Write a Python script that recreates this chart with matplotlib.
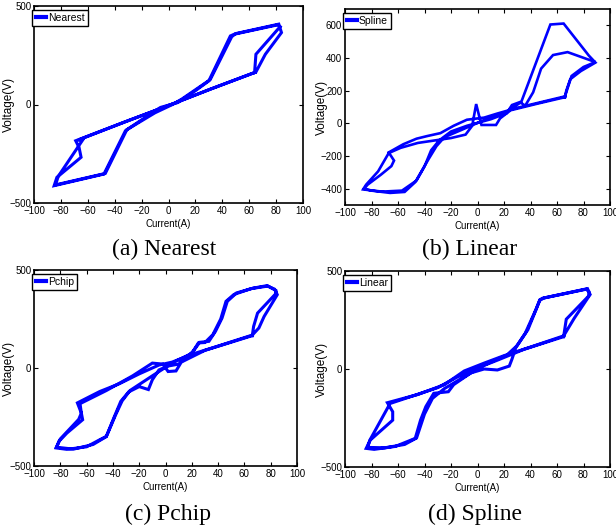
import matplotlib
matplotlib.use("Agg")
import matplotlib.pyplot as plt

# hysteresis loops, current (A) vs voltage (V), two cycles per panel
nearest_i = [64, 30, 0, -35, -69, -66.5, -65, -83, -85, -48, -32, -15, -6, 7, 20, 30, 46, 49, 81, 83, 65, 64,
             65, 32, 2, -30, -67, -64, -82, -84, -47, -31, -10, 3, 10, 31, 47, 50, 82, 84, 72, 65]
nearest_v = [162, 75, -5, -95, -184, -218, -268, -370, -412, -353, -133, -55, -15, 10, 70, 120, 348, 357, 404, 395, 255, 162,
             165, 80, 0, -82, -180, -182, -365, -408, -350, -128, -42, 0, 28, 126, 344, 360, 408, 365, 255, 165]

spline_i = [66, 48, 30, 15, 5, -8, -18, -28, -38, -46, -56, -67, -63, -65, -73, -83, -86, -72, -57, -46, -40, -35, -29,
            -20, -8, 10, 22, 26, 32, 36, 42, 48, 57, 68, 89, 80, 71, 68, 66,
            66, 45, 25, 17, 14, 3, 2, -1, -4, -9, -20, -30, -45, -58, -67, -75, -84, -86, -80, -66, -55, -47, -37, -31,
            -25, -12, 5, 20, 33, 55, 65, 84, 89, 78, 70, 67, 66]
spline_v = [165, 130, 95, 60, 35, 22, -15, -60, -78, -94, -128, -178, -228, -262, -315, -376, -405, -418, -412, -350, -264, -165, -105,
            -50, -15, 25, 62, 112, 130, 108, 190, 335, 418, 436, 375, 345, 290, 215, 165,
            160, 120, 80, 30, -10, -10, 20, 118, -15, -69, -90, -102, -120, -150, -182, -294, -375, -400, -412, -426, -420, -360, -220, -140,
            -85, -40, 20, 60, 130, 605, 611, 415, 372, 320, 270, 200, 160]

pchip_i = [66, 40, 20, 5, -5, -20, -35, -50, -67, -64, -63, -75, -81, -83, -75, -60, -50, -45, -39, -34, -28, -20, -13, -10, -5,
           2, 10, 21, 26, 33, 38, 43, 47, 54, 67, 77, 83, 85, 75, 71, 66,
           66, 30, 12, 8, 2, -2, -10, -25, -45, -65, -64, -66, -80, -83, -70, -55, -45, -38, -33, -27, -10, 5, 20, 25, 30,
           36, 42, 46, 52, 65, 78, 84, 84, 70, 67, 66]
pchip_v = [168, 112, 70, 30, 15, -30, -80, -120, -178, -230, -264, -332, -374, -408, -415, -402, -366, -349, -250, -170, -122, -95, -110, -60, -10,
           10, 20, 85, 131, 136, 187, 255, 340, 383, 408, 420, 402, 374, 263, 204, 168,
           165, 90, 30, -15, -18, 20, 25, -40, -115, -182, -230, -262, -362, -404, -414, -390, -350, -240, -168, -115, -40, 25, 75, 128, 130,
           170, 250, 340, 375, 405, 418, 395, 380, 280, 212, 165]

linear_i = [65, 40, 20, 5, -10, -25, -45, -68, -64, -64, -81, -84, -78, -62, -47, -43, -39, -33, -22, -18, -5, 5, 15, 24, 26,
            29, 36, 44, 47, 49, 82, 84, 84, 73, 65,
            65, 35, 15, 0, -15, -30, -50, -66, -81, -83, -70, -55, -46, -40, -34, -25, -10, 5, 15, 22, 30, 38, 44, 47, 50,
            83, 85, 67, 65]
linear_v = [169, 112, 68, 30, -10, -80, -130, -172, -218, -261, -363, -405, -410, -395, -354, -261, -192, -124, -116, -80, -20, 0, -5, 15, 50,
            111, 182, 302, 353, 361, 407, 395, 370, 259, 169,
            165, 100, 45, 5, -40, -95, -140, -176, -360, -400, -402, -385, -352, -230, -150, -100, -40, 20, 50, 70, 120, 200, 300, 350, 362,
            410, 380, 254, 165]

x_ticks = list(range(-100, 101, 20))
plt.rcParams["font.family"] = ["Liberation Sans", "DejaVu Sans"]

fig = plt.figure(figsize=(6.16, 5.31), dpi=100)


def draw_panel(rect, xs, ys, ylim, yticks, label, caption, cap_xy, ylab_x, lw=2.2):
    ax = fig.add_axes(rect)
    ax.plot(xs, ys, color="#0000ff", lw=lw, solid_joinstyle="miter", label=label)
    ax.set_xlim(-100, 100)
    ax.set_ylim(*ylim)
    ax.set_xticks(x_ticks)
    ax.set_yticks(yticks)
    ax.tick_params(direction="in", length=3, width=0.8, top=True, right=True,
                   labelsize=7, pad=2)
    for s in ax.spines.values():
        s.set_linewidth(1.2)
    ax.set_xlabel("Current(A)", fontsize=7, labelpad=2)
    ax.set_ylabel("Voltage(V)", fontsize=8.5)
    ax.yaxis.set_label_coords(ylab_x, 0.5)
    leg = ax.legend(loc="upper left", bbox_to_anchor=(-0.006, 0.98), fontsize=7.5,
                    handlelength=1.0, handletextpad=0.2, borderpad=0.3, borderaxespad=0,
                    fancybox=False, framealpha=1)
    leg.get_frame().set_edgecolor("black")
    leg.get_frame().set_linewidth(1.0)
    for h in leg.get_lines():
        h.set_linewidth(3)
    fig.text(cap_xy[0] / 616, 1 - cap_xy[1] / 531, caption, ha="center", va="center",
             fontsize=17, family="Liberation Serif")
    return ax


draw_panel([34 / 616, 1 - 203 / 531, 269 / 616, 197 / 531], nearest_i, nearest_v,
           (-500, 500), [-500, 0, 500], "Nearest", "(a) Nearest", (164, 249), -19 / 269)
draw_panel([345 / 616, 1 - 205 / 531, 265 / 616, 196 / 531], spline_i, spline_v,
           (-500, 700), [-400, -200, 0, 200, 400, 600], "Spline", "(b) Linear", (470, 249), -17 / 265, lw=1.9)
draw_panel([34 / 616, 1 - 466 / 531, 263 / 616, 196 / 531], pchip_i, pchip_v,
           (-500, 500), [-500, 0, 500], "Pchip", "(c) Pchip", (168, 514), -19 / 263)
draw_panel([345 / 616, 1 - 467 / 531, 265 / 616, 196 / 531], linear_i, linear_v,
           (-500, 500), [-500, 0, 500], "Linear", "(d) Spline", (475, 514), -17 / 265)

fig.savefig("out.png", dpi=100)
